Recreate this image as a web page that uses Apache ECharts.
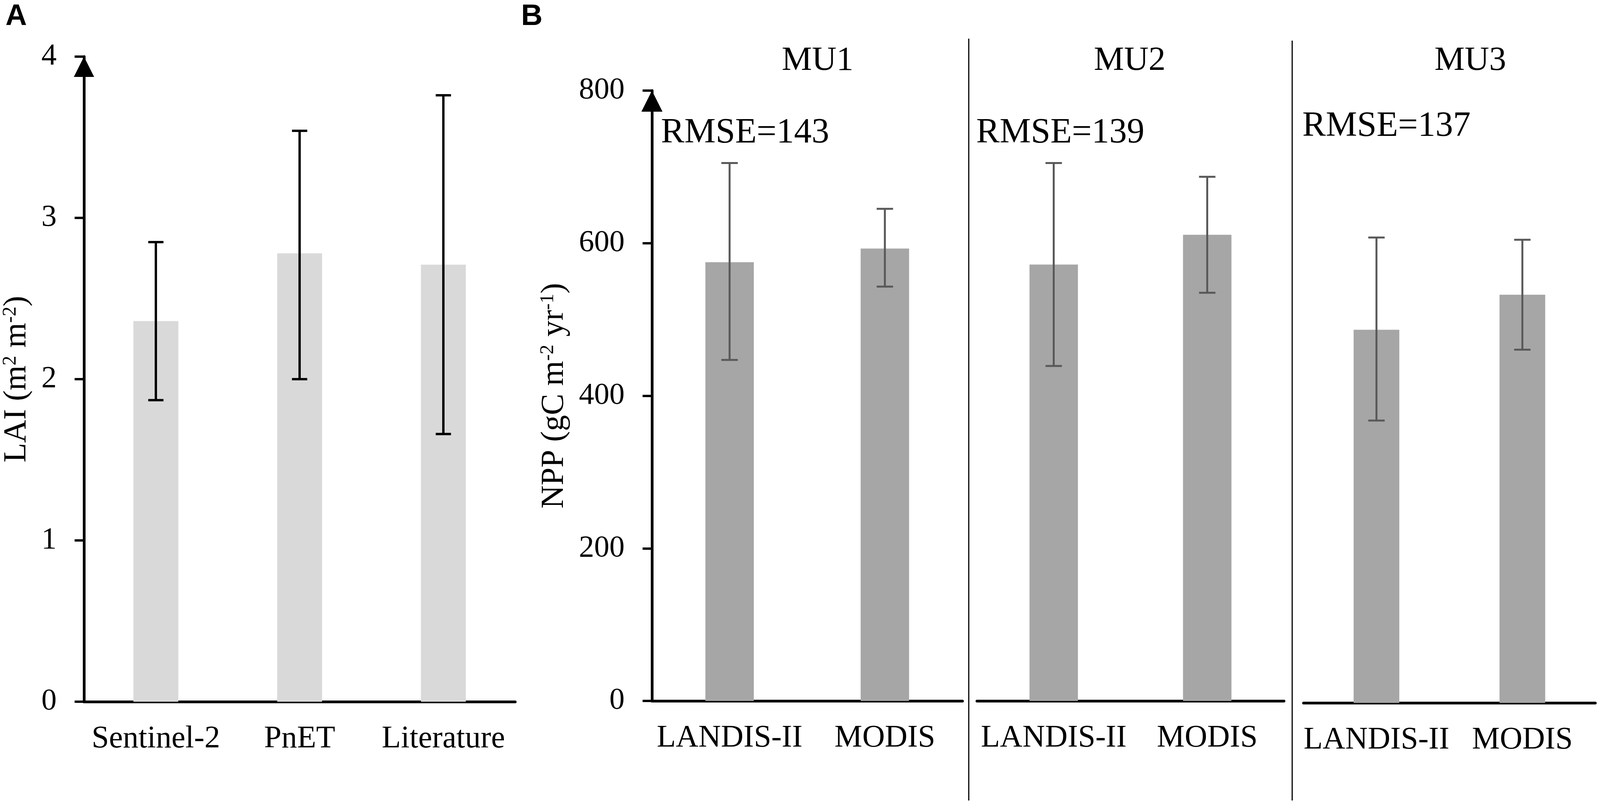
<!DOCTYPE html>
<html>
<head>
<meta charset="utf-8">
<title>LAI / NPP</title>
<script src="https://cdn.jsdelivr.net/npm/echarts@6/dist/echarts.min.js"></script>
<style>
  html, body { margin: 0; padding: 0; background: #fff; overflow: hidden; }
  #main { width: 100vw; height: 100vh; }
</style>
</head>
<body>
<div id="main"></div>
<script>
// panel A - LAI
var laiCats = ['Sentinel-2', 'PnET', 'Literature'];
var laiMean = [2.36, 2.78, 2.71];
var laiLow = [1.87, 2.00, 1.66];
var laiHigh = [2.85, 3.54, 3.76];
var laiTicks = [0, 1, 2, 3, 4];

// panel B - NPP, one pair per management unit
var nppCats = ['LANDIS-II', 'MODIS'];
var muNames = ['MU1', 'MU2', 'MU3'];
var rmseVals = [143, 139, 137];
var mu1Mean = [575, 593];
var mu1Low = [447, 543];
var mu1High = [705, 645];
var mu2Mean = [572, 611];
var mu2Low = [439, 535];
var mu2High = [705, 687];
var mu3Mean = [489, 535];
var mu3Low = [370, 463];
var mu3High = [610, 607];
var nppTicks = [0, 200, 400, 600, 800];

var serif = 'Liberation Serif';

// layout was measured on a 4200 px wide sheet; fit it to the real window width
var sx = (window.innerWidth || 4200) / 4200;
function X(v) {
  return Math.round(v * sx);
}

function errData(low, high) {
  var arr = [];
  for (var i = 0; i < low.length; i++) {
    arr.push([i, low[i], high[i]]);
  }
  return arr;
}

// whiskers with caps, positioned through the axes
function errRender(capW, color, lw) {
  return function (params, api) {
    var x = api.value(0);
    var lo = api.coord([x, api.value(1)]);
    var hi = api.coord([x, api.value(2)]);
    var st = { stroke: color, lineWidth: lw, fill: null };
    return {
      type: 'group',
      children: [
        { type: 'line', shape: { x1: hi[0], y1: hi[1], x2: lo[0], y2: lo[1] }, style: st },
        { type: 'line', shape: { x1: hi[0] - capW / 2, y1: hi[1], x2: hi[0] + capW / 2, y2: hi[1] }, style: st },
        { type: 'line', shape: { x1: lo[0] - capW / 2, y1: lo[1], x2: lo[0] + capW / 2, y2: lo[1] }, style: st }
      ]
    };
  };
}

function catAxis(grid, cats) {
  return {
    type: 'category',
    gridIndex: grid,
    data: cats,
    axisLine: { lineStyle: { color: '#000', width: 7 } },
    axisTick: { length: 23, lineStyle: { color: '#000', width: 6 } },
    axisLabel: { interval: 0, margin: 56, fontFamily: serif, fontSize: 80, color: '#000' }
  };
}

function valAxis(grid, ticks, show, name, nameGap, arrow) {
  return {
    type: 'value',
    gridIndex: grid,
    show: show,
    min: ticks[0],
    max: ticks[ticks.length - 1],
    interval: ticks[1] - ticks[0],
    splitLine: { show: false },
    axisLine: {
      show: true,
      symbol: ['none', 'triangle'],
      symbolSize: arrow,
      symbolOffset: [0, -arrow[1] / 2],
      lineStyle: { color: '#000', width: 7 }
    },
    axisTick: { show: true, length: 24, lineStyle: { color: '#000', width: 6 } },
    axisLabel: { margin: 70, fontFamily: serif, fontSize: 78, color: '#000' },
    name: name,
    nameLocation: 'middle',
    nameGap: nameGap,
    nameRotate: 90,
    nameTextStyle: {
      fontFamily: serif,
      fontSize: 82,
      color: '#000',
      rich: {
        sup: { fontFamily: serif, fontSize: 50, color: '#000', verticalAlign: 'top' }
      }
    }
  };
}

var option = {
  animation: false,
  backgroundColor: '#fff',
  textStyle: { fontFamily: serif },
  grid: [
    { left: X(220), top: 145, width: X(1352) - X(220), height: 1652 },
    { left: X(1711), top: 232, width: X(2527) - X(1711), height: 1563 },
    { left: X(2565), top: 232, width: X(3370) - X(2565), height: 1563 },
    { left: X(3422), top: 237, width: X(4188) - X(3422), height: 1563 }
  ],
  xAxis: [
    catAxis(0, laiCats),
    catAxis(1, nppCats),
    catAxis(2, nppCats),
    catAxis(3, nppCats)
  ],
  yAxis: [
    valAxis(0, laiTicks, true, 'LAI (m{sup|2} m{sup|-2})', X(134), [52, 52]),
    valAxis(1, nppTicks, true, 'NPP (gC m{sup|-2} yr{sup|-1})', X(214), [54, 54]),
    valAxis(2, nppTicks, false, '', 0, [1, 1]),
    valAxis(3, nppTicks, false, '', 0, [1, 1])
  ],
  series: [
    { type: 'bar', xAxisIndex: 0, yAxisIndex: 0, data: laiMean, barWidth: X(118), itemStyle: { color: '#d9d9d9' } },
    { type: 'custom', xAxisIndex: 0, yAxisIndex: 0, data: errData(laiLow, laiHigh),
      encode: { x: 0, y: [1, 2] }, renderItem: errRender(X(40), '#000', 6), z: 5 },

    { type: 'bar', xAxisIndex: 1, yAxisIndex: 1, data: mu1Mean, barWidth: X(127), itemStyle: { color: '#a6a6a6' } },
    { type: 'custom', xAxisIndex: 1, yAxisIndex: 1, data: errData(mu1Low, mu1High),
      encode: { x: 0, y: [1, 2] }, renderItem: errRender(X(43), '#595959', 5), z: 5 },

    { type: 'bar', xAxisIndex: 2, yAxisIndex: 2, data: mu2Mean, barWidth: X(127), itemStyle: { color: '#a6a6a6' } },
    { type: 'custom', xAxisIndex: 2, yAxisIndex: 2, data: errData(mu2Low, mu2High),
      encode: { x: 0, y: [1, 2] }, renderItem: errRender(X(43), '#595959', 5), z: 5 },

    { type: 'bar', xAxisIndex: 3, yAxisIndex: 3, data: mu3Mean, barWidth: X(120), itemStyle: { color: '#a6a6a6' } },
    { type: 'custom', xAxisIndex: 3, yAxisIndex: 3, data: errData(mu3Low, mu3High),
      encode: { x: 0, y: [1, 2] }, renderItem: errRender(X(43), '#595959', 5), z: 5 }
  ],
  graphic: []
};

// panel letters
option.graphic.push(
  { type: 'text', x: X(14), y: 5, style: { text: 'A', fontFamily: 'Liberation Sans', fontWeight: 'bold', fontSize: 76, fill: '#000' } },
  { type: 'text', x: X(1368), y: 5, style: { text: 'B', fontFamily: 'Liberation Sans', fontWeight: 'bold', fontSize: 76, fill: '#000' } }
);

// separators between management units
option.graphic.push(
  { type: 'line', shape: { x1: X(2543), y1: 99, x2: X(2543), y2: 2050 }, style: { stroke: '#000', lineWidth: 3 } },
  { type: 'line', shape: { x1: X(3392), y1: 104, x2: X(3392), y2: 2050 }, style: { stroke: '#000', lineWidth: 3 } }
);

// unit titles and RMSE
var titleX = [2146, 2965, 3860];
var rmseX = [1735, 2562, 3419];
var rmseY = [341, 341, 324];
for (var i = 0; i < muNames.length; i++) {
  option.graphic.push({
    type: 'text', x: X(titleX[i]), y: 156,
    style: { text: muNames[i], fontFamily: serif, fontSize: 87, fill: '#000',
      align: 'center', verticalAlign: 'middle', textAlign: 'center', textVerticalAlign: 'middle' }
  });
  option.graphic.push({
    type: 'text', x: X(rmseX[i]), y: rmseY[i],
    style: { text: 'RMSE=' + rmseVals[i], fontFamily: serif, fontSize: 90, fill: '#000',
      align: 'left', verticalAlign: 'middle', textAlign: 'left', textVerticalAlign: 'middle' }
  });
}

var chart = echarts.init(document.getElementById('main'));
chart.setOption(option);
</script>
</body>
</html>
